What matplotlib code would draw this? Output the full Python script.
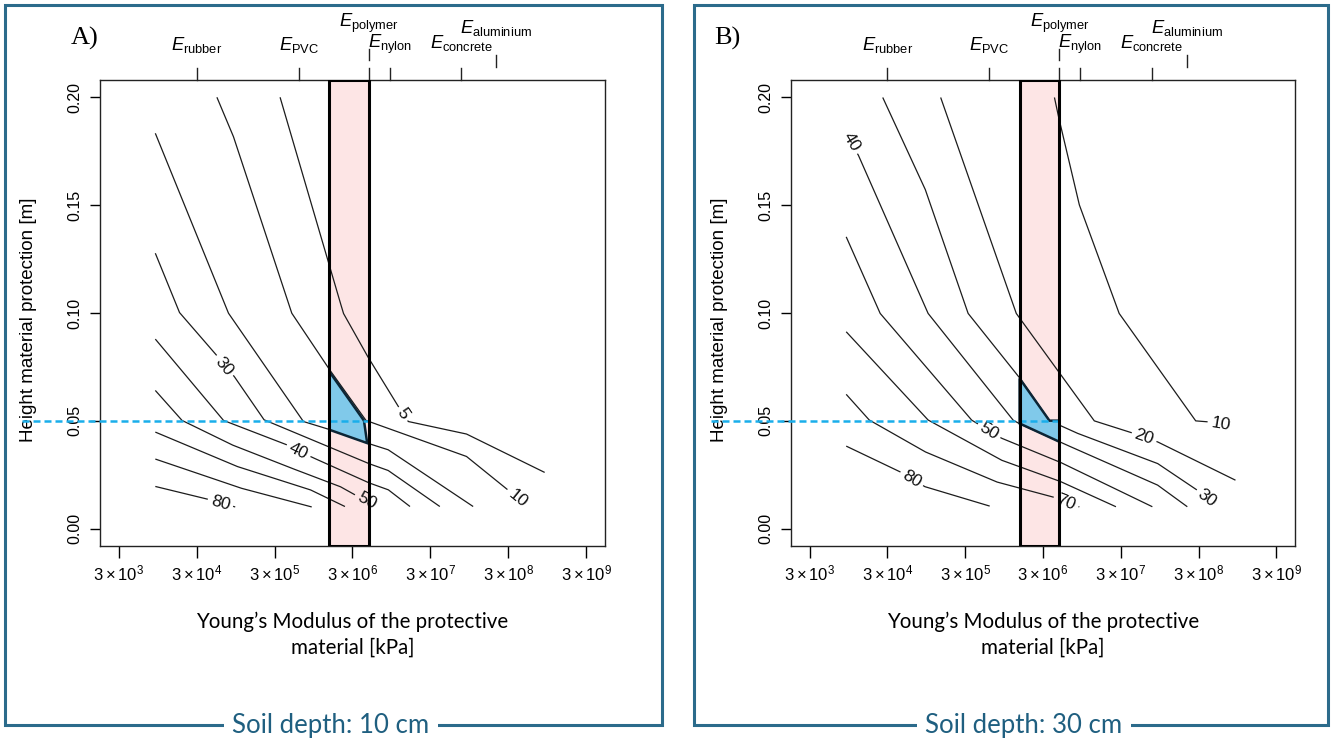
import numpy as np
import matplotlib
matplotlib.use('Agg')
import matplotlib.pyplot as plt
from matplotlib import transforms
from matplotlib.patches import Rectangle, Polygon
from matplotlib.ticker import NullLocator

plt.rcParams['font.family'] = ['Liberation Sans', 'DejaVu Sans']
plt.rcParams['mathtext.fontset'] = 'custom'
plt.rcParams['mathtext.rm'] = 'Liberation Sans'
plt.rcParams['mathtext.it'] = 'Liberation Sans:italic'
plt.rcParams['mathtext.bf'] = 'Liberation Sans:bold'

# ---------------- data ----------------
X_TICKS = [3e3, 3e4, 3e5, 3e6, 3e7, 3e8, 3e9]
X_TICK_LABELS = [r'$3\times10^{3}$', r'$3\times10^{4}$', r'$3\times10^{5}$', r'$3\times10^{6}$',
                 r'$3\times10^{7}$', r'$3\times10^{8}$', r'$3\times10^{9}$']
Y_TICKS = [0.0, 0.05, 0.10, 0.15, 0.20]
Y_TICK_LABELS = ['0.00', '0.05', '0.10', '0.15', '0.20']

MATERIALS = ['rubber', 'PVC', 'polymer', 'nylon', 'concrete', 'aluminium']
MATERIAL_E = [3.0e4, 6.1e5, 4.88e6, 9.0e6, 7.5e7, 2.1e8]

POLYMER_RANGE = [1.51e6, 4.88e6]
TARGET_HEIGHT = 0.05

# Panel A (soil depth 10 cm) contour lines: level -> (E [kPa], height [m])
A05_E = [3.53e5, 1.47e6, 2.29e6, 4.56e6, 1.16e7, 1.56e7, 8.71e7, 8.77e8]
A05_H = [0.200, 0.1238, 0.0999, 0.0806, 0.0567, 0.0497, 0.0439, 0.0261]
A10_E = [5.46e4, 8.91e4, 4.99e5, 1.47e6, 4.47e6, 8.71e7, 4.9e8]
A10_H = [0.200, 0.1817, 0.0999, 0.0745, 0.0502, 0.0335, 0.0116]
A20_E = [8.85e3, 7.69e4, 7.03e5, 1.47e6, 4.63e6, 8.61e6, 1.06e8]
A20_H = [0.1833, 0.0999, 0.0497, 0.0462, 0.0397, 0.0366, 0.0103]
A30_E = [8.85e3, 1.81e4, 5.35e4, 9.10e4, 2.20e5, 4.69e6, 8.61e6, 3.96e7]
A30_H = [0.1277, 0.1002, 0.0806, 0.0706, 0.0505, 0.0304, 0.0270, 0.0103]
A40_E = [8.85e3, 6.64e4, 4.31e5, 8.99e5, 2.07e6, 4.69e6, 8.61e6, 1.64e7]
A40_H = [0.0879, 0.0502, 0.0389, 0.0332, 0.0273, 0.0215, 0.0181, 0.0103]
A50_E = [8.85e3, 1.95e4, 8.51e4, 4.31e5, 2.07e6, 6.0e6]
A50_H = [0.0641, 0.0502, 0.0389, 0.0289, 0.0196, 0.0103]
A60_E = [8.85e3, 9.86e4, 8.57e5, 2.40e6]
A60_H = [0.0448, 0.0289, 0.0181, 0.0103]
A70_E = [8.85e3, 1.09e5, 8.99e5]
A70_H = [0.0323, 0.0189, 0.0101]
A80_E = [8.85e3, 4.06e4, 9.38e4]
A80_H = [0.0196, 0.0138, 0.0101]

A_LABEL_LEVELS = [5, 10, 30, 40, 50, 80]
A_LABEL_E = [1.34e7, 3.99e8, 6.64e4, 6.07e5, 4.56e6, 6.03e4]
A_LABEL_H = [0.0533, 0.0142, 0.0752, 0.0360, 0.0130, 0.0119]

A_ZONE_E = [1.51e6, 4.21e6, 4.63e6, 1.51e6]
A_ZONE_H = [0.0729, 0.0501, 0.0397, 0.0459]

# Panel B (soil depth 30 cm)
B10_E = [4.21e6, 4.65e6, 8.80e6, 2.86e7, 2.75e8, 3.87e8, 6.6e8]
B10_H = [0.1999, 0.1924, 0.1501, 0.0998, 0.0500, 0.0496, 0.0482]
B20_E = [1.45e5, 1.36e6, 4.43e6, 1.37e7, 3.85e7, 8.87e7, 8.95e8]
B20_H = [0.1999, 0.0998, 0.0743, 0.0500, 0.0449, 0.0403, 0.0225]
B30_E = [2.61e4, 9.10e4, 3.27e5, 1.47e6, 3.63e6, 4.88e6, 8.38e6, 8.87e7, 2.88e8, 4.8e8]
B30_H = [0.1999, 0.1577, 0.0998, 0.0704, 0.0501, 0.0480, 0.0442, 0.0303, 0.0179, 0.0120]
B40_E = [9.3e3, 1.27e4, 1.00e5, 1.23e6, 1.47e6, 4.88e6, 8.87e7, 2.15e8]
B40_H = [0.1812, 0.1731, 0.0998, 0.0504, 0.0488, 0.0403, 0.0203, 0.0102]
B50_E = [8.85e3, 2.42e4, 3.61e5, 8.75e5, 4.88e6, 7.64e7]
B50_H = [0.1353, 0.0998, 0.0504, 0.0420, 0.0310, 0.0102]
B60_E = [8.85e3, 1.00e5, 8.75e5, 4.88e6, 2.60e7]
B60_H = [0.0913, 0.0504, 0.0318, 0.0221, 0.0102]
B70_E = [8.85e3, 1.75e4, 9.10e4, 7.60e5, 4.65e6, 8.80e6]
B70_H = [0.0623, 0.0504, 0.0357, 0.0217, 0.0141, 0.0101]
B80_E = [8.85e3, 4.36e4, 9.10e4, 6.19e5]
B80_H = [0.0383, 0.0264, 0.0195, 0.0105]

B_LABEL_LEVELS = [10, 20, 30, 40, 50, 70, 80]
B_LABEL_E = [5.75e8, 5.98e7, 3.87e8, 1.03e4, 6.07e5, 5.94e6, 6.15e4]
B_LABEL_H = [0.0486, 0.0425, 0.0141, 0.1792, 0.0454, 0.0122, 0.0231]

B_ZONE_E = [1.50e6, 3.63e6, 4.88e6, 4.88e6, 1.50e6]
B_ZONE_H = [0.0697, 0.0501, 0.0501, 0.0403, 0.0488]

PANEL_TITLES = ['Soil depth: 10 cm', 'Soil depth: 30 cm']
PANEL_TAGS = ['A)', 'B)']

A_LINES = {5: (A05_E, A05_H), 10: (A10_E, A10_H), 20: (A20_E, A20_H), 30: (A30_E, A30_H),
           40: (A40_E, A40_H), 50: (A50_E, A50_H), 60: (A60_E, A60_H), 70: (A70_E, A70_H),
           80: (A80_E, A80_H)}
B_LINES = {10: (B10_E, B10_H), 20: (B20_E, B20_H), 30: (B30_E, B30_H), 40: (B40_E, B40_H),
           50: (B50_E, B50_H), 60: (B60_E, B60_H), 70: (B70_E, B70_H), 80: (B80_E, B80_H)}

# ---------------- style ----------------
W, H = 1331, 741
PINK = '#fde5e5'
ZONE = '#80c9ea'
ZONE_EDGE = '#0c2535'
DASH = '#1aaeea'
FRAME = '#2c6b8b'
TITLE_C = '#1f5f80'
LINE_C = '#1c1c1c'

fig = plt.figure(figsize=(W / 100, H / 100), dpi=100)

ax_boxes = [(100, 80, 505, 466), (791, 80, 504, 466)]
frames = [(5, 5, 662, 725), (694, 5, 1328, 725)]
title_x = [331, 1024]
tag_x = [85, 727]

log_lo = np.log10(3e3) - 0.24
log_hi = np.log10(3e9) + 0.24


def px2fig(x, y):
    return x / W, 1 - y / H


def draw_line(ax, E, Hh, labels):
    pts = ax.transData.transform(np.column_stack([E, Hh]))
    dense = [np.linspace(pts[i], pts[i + 1], 120, endpoint=False) for i in range(len(pts) - 1)]
    dense.append(pts[-1:])
    dense = np.vstack(dense)
    keep = np.ones(len(dense), bool)
    for txt, le, lh in labels:
        c = ax.transData.transform((le, lh))
        r = 5.0 * len(txt) + 3.0
        d = np.hypot(dense[:, 0] - c[0], dense[:, 1] - c[1])
        keep &= d > r
        j = int(np.argmin(d))
        a = dense[max(j - 6, 0)]
        b = dense[min(j + 6, len(dense) - 1)]
        ang = np.degrees(np.arctan2(b[1] - a[1], b[0] - a[0]))
        if ang > 90:
            ang -= 180
        if ang < -90:
            ang += 180
        ax.text(le, lh, txt, rotation=ang, rotation_mode='anchor', ha='center', va='center',
                fontsize=12.5, color='#111111', zorder=3)
    dense[~keep] = np.nan
    data = ax.transData.inverted().transform(dense)
    ax.plot(data[:, 0], data[:, 1], color=LINE_C, lw=0.9, zorder=2, solid_capstyle='butt')


panels = [
    (A_LINES, A_LABEL_LEVELS, A_LABEL_E, A_LABEL_H, A_ZONE_E, A_ZONE_H),
    (B_LINES, B_LABEL_LEVELS, B_LABEL_E, B_LABEL_H, B_ZONE_E, B_ZONE_H),
]

for k, (lines, lab_lv, lab_e, lab_h, zone_e, zone_h) in enumerate(panels):
    # frame + title
    fx0, fy0, fx1, fy1 = frames[k]
    x0, y1f = px2fig(fx0, fy1)
    fig.patches.append(Rectangle((x0, y1f), (fx1 - fx0) / W, (fy1 - fy0) / H, transform=fig.transFigure,
                                 fill=False, edgecolor=FRAME, lw=2.2, zorder=0))
    tx, ty = px2fig(title_x[k], fy1)
    fig.text(tx, ty, PANEL_TITLES[k], ha='center', va='center', family=['Lato', 'DejaVu Sans'],
             fontsize=18.5, color=TITLE_C,
             bbox=dict(facecolor='white', edgecolor='none', pad=6))
    gx, gy = px2fig(tag_x[k], 38)
    fig.text(gx, gy, PANEL_TAGS[k], ha='center', va='center', family=['Liberation Serif', 'DejaVu Serif'],
             fontsize=19)

    bx, by, bw, bh = ax_boxes[k]
    ax = fig.add_axes([bx / W, 1 - (by + bh) / H, bw / W, bh / H])
    ax.set_xscale('log')
    ax.set_xlim(10 ** log_lo, 10 ** log_hi)
    ax.set_ylim(-0.008, 0.208)
    ax.xaxis.set_minor_locator(NullLocator())
    ax.set_xticks(X_TICKS)
    ax.set_xticklabels(X_TICK_LABELS, fontsize=12)
    ax.set_yticks(Y_TICKS)
    ax.set_yticklabels(Y_TICK_LABELS, fontsize=11.5, rotation=90, va='center')
    ax.tick_params(axis='x', direction='out', length=8.5, width=1, pad=4)
    ax.tick_params(axis='y', direction='out', length=7, width=1, pad=6)
    for s in ax.spines.values():
        s.set_linewidth(1.0)
        s.set_color('#222222')
    ax.set_ylabel('Height material protection [m]', fontsize=13.5)
    ax.yaxis.set_label_coords(-0.125, 0.485)
    ax.text(0.5, -0.19, 'Young\u2019s Modulus of the protective\nmaterial [kPa]', transform=ax.transAxes,
            ha='center', va='center', family=['Lato', 'DejaVu Sans'], fontsize=14.8, linespacing=1.4)

    # polymer range
    ax.axvspan(POLYMER_RANGE[0], POLYMER_RANGE[1], facecolor=PINK, edgecolor='none', zorder=0.5)
    ax.axvspan(POLYMER_RANGE[0], POLYMER_RANGE[1], fill=False, edgecolor='black', lw=2.2, zorder=6)

    # contour lines
    for lv, (E, Hh) in lines.items():
        labs = [(str(l), e, h) for l, e, h in zip(lab_lv, lab_e, lab_h) if l == lv]
        draw_line(ax, E, Hh, labs)

    # acceptable zone
    ax.add_patch(Polygon(np.column_stack([zone_e, zone_h]), closed=True, facecolor=ZONE,
                         edgecolor=ZONE_EDGE, lw=1.8, zorder=4, joinstyle='miter'))

    # target height dashed line (extends left past the axis)
    frac = -(bx - (fx0 + 17)) / bw
    e_start = 10 ** (log_lo + frac * (log_hi - log_lo))
    ax.plot([e_start, POLYMER_RANGE[1]], [TARGET_HEIGHT, TARGET_HEIGHT], color=DASH, lw=1.8,
            ls=(0, (2.8, 1.6)), zorder=5, clip_on=False)

    # top material axis
    tr = transforms.blended_transform_factory(ax.transData, ax.transAxes)
    tick_segments = {'rubber': [(1.0, 1.0258)], 'PVC': [(1.0, 1.0258)],
                     'polymer': [(1.0, 1.0258), (1.043, 1.0665)], 'nylon': [(1.0, 1.0258)],
                     'concrete': [(1.0, 1.0258)], 'aluminium': [(1.028, 1.054)]}
    label_base = {'rubber': 1.0644, 'PVC': 1.0644, 'polymer': 1.1137, 'nylon': 1.0687,
                  'concrete': 1.0687, 'aluminium': 1.1005}
    for name, e in zip(MATERIALS, MATERIAL_E):
        for (ya, yb) in tick_segments[name]:
            ax.plot([e, e], [ya, yb], transform=tr, color='#222222', lw=1.0, clip_on=False)
        ax.text(e, label_base[name], r'$E_{\mathrm{%s}}$' % name, transform=tr, ha='center',
                va='baseline', fontsize=13.2)

fig.savefig('out.png', dpi=100)
